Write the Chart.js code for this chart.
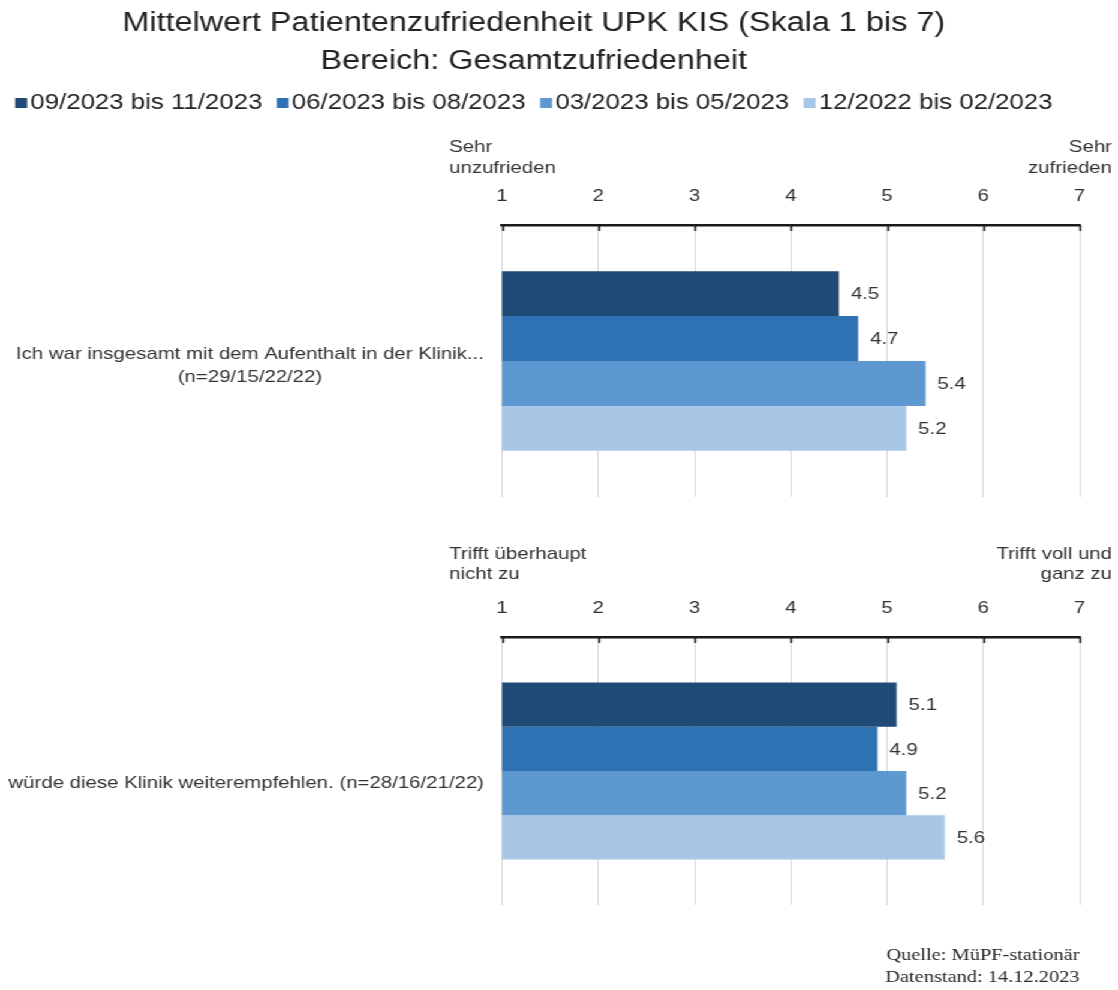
<!DOCTYPE html>
<html lang="de">
<head>
<meta charset="utf-8">
<title>Mittelwert Patientenzufriedenheit UPK KIS</title>
<script src="https://cdn.jsdelivr.net/npm/chart.js@4.4.1/dist/chart.umd.min.js"></script>
<style>
  html, body { margin: 0; padding: 0; background: #fff; }
  #stage { position: relative; width: 1118px; height: 990px; overflow: hidden; }
  /* the sheet is laid out 932px wide and widened to the full 1118px */
  #sheet { position: absolute; left: 0; top: 0; width: 932px; height: 990px;
           transform-origin: 0 0; transform: scaleX(1.19957); }
  .panel { position: absolute; left: 0; width: 932px; }
  #p1 { top: 0; height: 505px; }
  #p2 { top: 505px; height: 485px; }
</style>
</head>
<body>
<div id="stage"><div id="sheet">
  <div class="panel" id="p1"><canvas id="c1"></canvas></div>
  <div class="panel" id="p2"><canvas id="c2"></canvas></div>
</div></div>
<script>
// ---- data ----
const titleLines = ['Mittelwert Patientenzufriedenheit UPK KIS (Skala 1 bis 7)', 'Bereich: Gesamtzufriedenheit'];
const periods = ['09/2023 bis 11/2023', '06/2023 bis 08/2023', '03/2023 bis 05/2023', '12/2022 bis 02/2023'];
const periodColors = ['#1f4a75', '#2f72b3', '#5e98d1', '#a8c7e6'];

const aufenthaltLabel = ['Ich war insgesamt mit dem Aufenthalt in der Klinik...', '(n=29/15/22/22)'];
const aufenthaltMeans = [4.5, 4.7, 5.4, 5.2];
const aufenthaltEnds = [['Sehr', 'unzufrieden'], ['Sehr', 'zufrieden']];

const empfehlungLabel = 'würde diese Klinik weiterempfehlen. (n=28/16/21/22)';
const empfehlungMeans = [5.1, 4.9, 5.2, 5.6];
const empfehlungEnds = [['Trifft überhaupt', 'nicht zu'], ['Trifft voll und', 'ganz zu']];

const scaleMin = 1;
const scaleMax = 7;
const sourceLines = ['Quelle: MüPF-stationär', 'Datenstand: 14.12.2023'];

// ---- shared look ----
const SANS = '"Liberation Sans", Arial, Helvetica, sans-serif';
const TEXT = '#333333';
const AREA_LEFT = 418.5;   // left edge of the plotting area
const PAD_RIGHT = 32;

// small square legend marker sitting close to its text
function legendSwatch(color) {
  const c = document.createElement('canvas');
  c.width = 24;
  c.height = 10;
  const g = c.getContext('2d');
  g.fillStyle = color;
  g.fillRect(11, 0, 10, 10);
  return c;
}

// value printed just past the end of every bar
const valueLabels = {
  id: 'valueLabels',
  afterDatasetsDraw(chart) {
    const ctx = chart.ctx;
    ctx.save();
    ctx.font = '17px ' + SANS;
    ctx.fillStyle = TEXT;
    ctx.textAlign = 'left';
    ctx.textBaseline = 'middle';
    chart.data.datasets.forEach((ds, i) => {
      chart.getDatasetMeta(i).data.forEach((bar, j) => {
        ctx.fillText(ds.data[j].toFixed(1), bar.x + 10, bar.y + 1);
      });
    });
    ctx.restore();
  }
};

// short dark tick marks hanging below the top axis line, plus the scale end captions
const axisDecor = {
  id: 'axisDecor',
  afterDraw(chart, args, opts) {
    const ctx = chart.ctx;
    const xs = chart.scales.x;
    const top = chart.chartArea.top;
    ctx.save();
    ctx.strokeStyle = '#1a1a1a';
    ctx.lineWidth = 1.6;
    xs.ticks.forEach(t => {
      const px = Math.round(xs.getPixelForValue(t.value)) + 0.5;
      ctx.beginPath();
      ctx.moveTo(px, top);
      ctx.lineTo(px, top + 6);
      ctx.stroke();
    });
    ctx.font = '17px ' + SANS;
    ctx.fillStyle = TEXT;
    ctx.textBaseline = 'middle';
    const [leftLines, rightLines] = opts.ends;
    const xl = xs.getPixelForValue(scaleMin) - 44;
    const xr = xs.getPixelForValue(scaleMax) + 27;
    opts.rows.forEach((dy, k) => {
      ctx.textAlign = 'left';
      ctx.fillText(leftLines[k], xl, top + dy);
      ctx.textAlign = 'right';
      ctx.fillText(rightLines[k], xr, top + dy);
    });
    ctx.restore();
  }
};

function makeDatasets(means) {
  return periods.map((p, i) => ({
    label: p,
    data: [means[i]],
    backgroundColor: periodColors[i],
    pointStyle: legendSwatch(periodColors[i]),
    borderWidth: 0,
    categoryPercentage: 0.66,
    barPercentage: 1.0
  }));
}

function panelOptions(cfg) {
  return {
    indexAxis: 'y',
    responsive: true,
    maintainAspectRatio: false,
    animation: false,
    events: [],
    layout: { padding: { left: cfg.padLeft, right: PAD_RIGHT, top: 0, bottom: cfg.padBottom } },
    scales: {
      x: {
        position: 'top',
        min: scaleMin,
        max: scaleMax,
        afterFit: s => { s.height = cfg.axisHeight; },
        ticks: { stepSize: 1, padding: 18, color: TEXT, font: { family: SANS, size: 17 } },
        grid: { color: '#d9d9d9', lineWidth: 1, drawTicks: false },
        border: { display: true, color: '#1a1a1a', width: 2.5 }
      },
      y: {
        afterFit: s => {
          s.width = AREA_LEFT - cfg.padLeft;
          s.paddingTop = 0;
          s.paddingBottom = 0;
        },
        ticks: {
          crossAlign: 'center',
          padding: 15,
          labelOffset: cfg.labelOffset,
          color: TEXT,
          font: { family: SANS, size: 17, lineHeight: 1.35 }
        },
        grid: { display: false, drawTicks: false },
        border: { display: false }
      }
    },
    plugins: {
      legend: cfg.legend,
      title: cfg.title,
      subtitle: cfg.subtitle,
      tooltip: { enabled: false },
      axisDecor: { ends: cfg.ends, rows: cfg.rows }
    }
  };
}

new Chart(document.getElementById('c1'), {
  type: 'bar',
  data: { labels: [aufenthaltLabel], datasets: makeDatasets(aufenthaltMeans) },
  options: panelOptions({
    padLeft: -10,
    padBottom: 8,
    axisHeight: 101.25,
    labelOffset: 5,
    ends: aufenthaltEnds,
    rows: [-78, -57],
    title: {
      display: true,
      text: titleLines,
      color: '#222222',
      font: { family: SANS, size: 27, weight: 'normal', lineHeight: 1.4 },
      padding: { top: 5.1, bottom: -0.45 }
    },
    legend: {
      display: true,
      position: 'top',
      align: 'center',
      labels: {
        usePointStyle: true,
        boxWidth: 2,
        boxHeight: 10,
        padding: 12,
        color: '#222222',
        font: { family: SANS, size: 21.5 }
      }
    },
    subtitle: { display: false }
  }),
  plugins: [valueLabels, axisDecor]
});

new Chart(document.getElementById('c2'), {
  type: 'bar',
  data: { labels: [empfehlungLabel], datasets: makeDatasets(empfehlungMeans) },
  options: panelOptions({
    padLeft: 0,
    padBottom: 0,
    axisHeight: 132,
    labelOffset: 12,
    ends: empfehlungEnds,
    rows: [-83, -63],
    title: { display: false },
    legend: { display: false },
    subtitle: {
      display: true,
      position: 'bottom',
      align: 'end',
      text: sourceLines,
      color: '#2a2a2a',
      font: { family: '"Liberation Serif", "Times New Roman", serif', size: 17, lineHeight: 1.3 },
      padding: { top: 39, bottom: 1.8 }
    }
  }),
  plugins: [valueLabels, axisDecor]
});
</script>
</body>
</html>
